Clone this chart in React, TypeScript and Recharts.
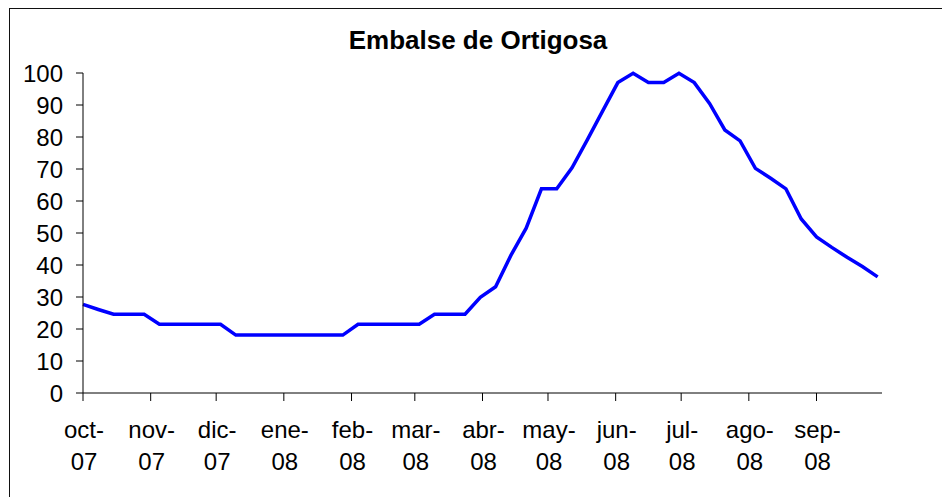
import { LineChart, Line, XAxis, YAxis } from "recharts"

// weekly readings, days counted from 1 Oct 2007
const DAYS = [
  0, 7, 14, 21, 28, 35, 42, 49, 56, 63, 70, 77, 84, 91, 98, 105, 112, 119, 126, 133,
  140, 147, 154, 161, 168, 175, 182, 189, 196, 203, 210, 217, 224, 231, 238, 245, 252,
  259, 266, 273, 280, 287, 294, 301, 308, 315, 322, 329, 336, 343, 350, 357, 364,
]

// % of capacity
const LEVELS = [
  27.7, 26.1, 24.6, 24.6, 24.6, 21.5, 21.5, 21.5, 21.5, 21.5, 18.1, 18.1, 18.1, 18.1,
  18.1, 18.1, 18.1, 18.1, 21.5, 21.5, 21.5, 21.5, 21.5, 24.6, 24.6, 24.6, 29.9, 33.2,
  43.0, 51.5, 63.8, 63.8, 70.4, 79.1, 88.1, 97.0, 99.9, 97.0, 97.0, 99.9, 97.0, 90.5,
  82.2, 78.8, 70.2, 67.1, 63.8, 54.4, 48.8, 45.5, 42.4, 39.5, 36.3,
]

const MONTH_STARTS = [0, 31, 61, 92, 123, 152, 183, 213, 244, 274, 305, 336]
const MONTH_LABELS = [
  "oct-07", "nov-07", "dic-07", "ene-08", "feb-08", "mar-08",
  "abr-08", "may-08", "jun-08", "jul-08", "ago-08", "sep-08",
]
const Y_TICKS = [0, 10, 20, 30, 40, 50, 60, 70, 80, 90, 100]

const data = DAYS.map((d, i) => ({ day: d, level: LEVELS[i] }))

const FONT = '"Liberation Sans", Arial, sans-serif'

function MonthTick({ x, y, payload }: { x?: number; y?: number; payload?: { value: number } }) {
  const idx = MONTH_STARTS.indexOf(payload?.value ?? -1)
  if (idx < 0) return null
  const [m, yy] = MONTH_LABELS[idx].split("-")
  return (
    <text textAnchor="middle" fontSize={24} fontFamily={FONT} fill="#000">
      <tspan x={(x ?? 0) + 1} y={(y ?? 0) + 35}>{m}-</tspan>
      <tspan x={(x ?? 0) + 1} y={(y ?? 0) + 67}>{yy}</tspan>
    </text>
  )
}

export default function App() {
  return (
    <div style={{ position: "absolute", left: 0, top: 0, width: 942, height: 497, background: "#fff" }}>
      <div
        style={{
          position: "absolute",
          left: 9,
          top: 8,
          width: 940,
          height: 495,
          borderLeft: "1px solid #111",
          borderTop: "1px solid #111",
        }}
      />
      <svg width={942} height={497} style={{ position: "absolute", left: 0, top: 0 }}>
        <text x={478} y={49} textAnchor="middle" fontSize={26} fontWeight="bold" fontFamily={FONT} fill="#000">
          Embalse de Ortigosa
        </text>
      </svg>
      <div style={{ position: "absolute", left: 0, top: 0 }}>
        <LineChart width={942} height={497} data={data} margin={{ top: 73, right: 60, bottom: 14, left: 13 }}>
          <XAxis
            dataKey="day"
            type="number"
            domain={[0, 366]}
            ticks={MONTH_STARTS}
            interval={0}
            height={90}
            tickSize={8}
            tickMargin={2}
            stroke="#000"
            tick={<MonthTick />}
          />
          <YAxis
            domain={[0, 100]}
            ticks={Y_TICKS}
            interval={0}
            width={70}
            tickSize={7}
            tickMargin={13}
            stroke="#000"
            tick={{ fontSize: 24, fill: "#000", fontFamily: FONT }}
          />
          <Line
            type="linear"
            dataKey="level"
            stroke="#0000ff"
            strokeWidth={3.5}
            dot={false}
            activeDot={false}
            isAnimationActive={false}
          />
        </LineChart>
      </div>
    </div>
  )
}
